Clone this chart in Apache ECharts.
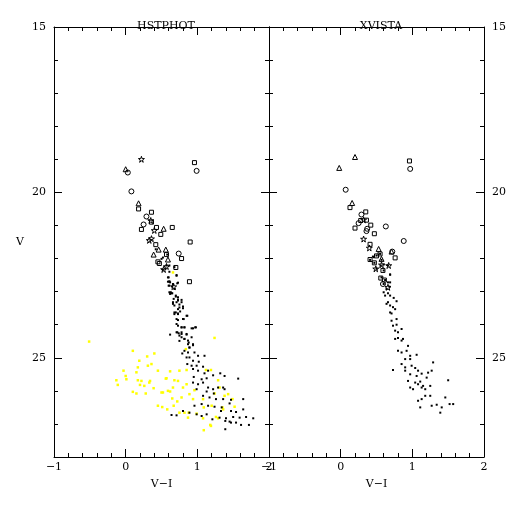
<!DOCTYPE html>
<html><head><meta charset="utf-8">
<script src="https://cdn.jsdelivr.net/npm/echarts@6/dist/echarts.min.js"></script>
<style>html,body{margin:0;padding:0;background:#fff}#c{width:512px;height:512px}</style>
</head><body><div id="c"></div>
<script>
// ---- Data (V-I, V) ----
const panelTitles = ['HSTPHOT', 'XVISTA'];
const xTicks = [-1, 0, 1, 2];
const yTicks = [15, 20, 25];

const hstSquares = [[0.96,19.1],[0.18,20.5],[0.36,20.6],[0.36,20.9],[0.22,21.12],[0.43,21.06],[0.65,21.06],[0.49,21.27],[0.9,21.5],[0.42,21.58],[0.57,21.88],[0.78,22.0],[0.45,22.1],[0.47,22.15],[0.70,22.27],[0.89,22.7]];
const hstCircles = [[0.03,19.4],[0.99,19.35],[0.08,19.97],[0.29,20.73],[0.25,20.97],[0.74,21.85]];
const hstTriangles = [[0.0,19.3],[0.18,20.33],[0.53,21.1],[0.56,21.73],[0.46,21.73],[0.39,21.88],[0.59,22.03]];
const hstStars = [[0.22,19.0],[0.35,20.85],[0.40,21.15],[0.36,21.4],[0.33,21.45],[0.57,22.24],[0.53,22.33],[0.67,22.85]];
const hstDots = [[0.42,21.72],[0.52,21.97],[0.61,22.4],[0.71,22.5],[0.6,22.57],[0.61,22.7],[0.73,22.73],[0.6,22.82],
[0.58,21.88],[0.50,22.01],[0.57,22.21],[0.61,22.21],[0.68,22.26],[0.52,22.34],[0.71,22.52],[0.59,22.57],[0.61,22.69],[0.66,22.77],[0.65,22.85],[0.68,22.92],[0.61,23.02],[0.64,23.05],[0.70,23.12],[0.73,23.17],[0.66,23.32],[0.73,23.27],[0.78,23.32],[0.75,23.48],[0.80,23.50],[0.68,23.63],[0.73,23.68],[0.85,23.73],[0.71,23.83],[0.80,23.83],[0.73,24.03],[0.78,24.08],[0.82,24.08],[0.71,24.23],[0.78,24.23],[0.85,24.30],[0.94,24.11],[0.98,24.08],[0.82,24.43],[0.87,24.48],[0.92,24.38],[0.94,24.59],[0.89,24.69],[0.75,24.33],
[0.59,22.70],[0.62,22.72],[0.72,22.75],[0.61,22.82],[0.66,22.79],[0.63,23.02],[0.62,23.07],[0.65,23.05],[0.70,23.15],[0.67,23.22],[0.73,23.24],[0.78,23.25],[0.71,23.32],[0.66,23.37],[0.68,23.42],[0.75,23.39],[0.80,23.45],[0.73,23.53],[0.70,23.63],[0.73,23.66],[0.76,23.60],[0.86,23.73],[0.68,23.68],[0.81,23.83],[0.73,23.86],[0.71,23.98],[0.78,24.08],[0.82,24.08],[0.92,24.11],[0.97,24.08],[0.72,24.23],[0.74,24.26],[0.78,24.28],[0.85,24.28],[0.62,24.30],[0.78,24.38],[0.82,24.43],[0.75,24.49],[0.88,24.54],[0.87,24.59],[0.94,24.62],[0.89,24.69],[0.82,24.79],[0.79,24.87],[0.87,24.84],[0.96,24.84],[0.85,24.99],[0.89,24.99],[1.01,24.94],[1.10,24.94],[0.94,25.09],[1.02,25.12],[0.86,25.19],[0.92,25.24],[0.99,25.24],[1.08,25.27],[1.15,25.39],[0.94,25.34],[1.01,25.39],[1.10,25.47],[0.95,25.58],[1.06,25.65],[1.13,25.62],[1.22,25.53],[1.32,25.47],[1.38,25.55],[1.57,25.63],[0.94,25.75],[1.01,25.80],[1.08,25.75],[1.15,25.90],[1.22,25.95],[1.29,25.90],[1.36,25.90],[0.99,25.95],[1.13,26.02],[1.23,26.08],[1.38,25.95],[1.08,26.15],[1.17,26.20],[1.26,26.25],[1.36,26.25],[1.47,26.27],[1.64,26.25],[0.96,26.45],[1.06,26.40],[1.15,26.45],[1.24,26.48],[1.34,26.50],[1.45,26.38],[1.33,26.61],[1.47,26.61],[1.54,26.64],[1.64,26.56],[0.80,26.61],[0.89,26.66],[0.99,26.71],[1.06,26.76],[1.13,26.71],[1.21,26.86],[1.31,26.81],[1.40,26.83],[1.50,26.79],[1.59,26.81],[1.68,26.79],[1.78,26.83],[1.39,26.91],[1.47,26.96],[1.54,26.96],[1.61,27.03],[1.72,27.03],[0.64,26.73],[0.71,26.74],[1.39,27.16],[1.45,26.93]];
const hstYellow = [[0.66,22.42],[-0.51,24.51],[0.10,24.79],[0.30,24.96],[0.40,24.87],[0.19,25.09],[0.36,25.19],[0.31,25.24],[-0.03,25.39],[0.15,25.44],[0.45,25.39],[0.62,25.41],[0.75,25.39],[0.85,25.37],[1.12,25.37],[1.19,25.37],[1.24,24.40],[0.84,24.74],[0.00,25.55],[0.01,25.65],[-0.13,25.68],[-0.11,25.82],[0.17,25.68],[0.33,25.75],[0.26,25.85],[0.20,25.82],[0.57,25.62],[0.68,25.68],[0.73,25.70],[0.85,25.80],[0.66,25.90],[0.39,25.92],[0.52,26.05],[0.59,26.00],[0.10,26.03],[0.15,26.08],[0.28,26.08],[0.45,26.45],[0.58,26.56],[0.67,26.45],[0.78,26.20],[0.94,26.25],[1.08,26.25],[1.29,25.68],[1.31,25.90],[1.43,26.10],[1.49,26.25],[1.35,26.50],[1.52,26.48],[0.88,26.66],[0.99,26.69],[1.09,26.50],[1.26,26.79],[0.87,26.81],[1.08,26.83],[1.19,27.06],[1.09,27.19],[1.36,26.56],[0.80,25.90],[0.96,25.98],[0.89,26.10],[0.17,25.29],[0.22,25.70],[0.34,25.70],[0.56,25.63],[0.50,26.05],[0.62,26.02],[0.65,26.23],[0.72,26.32],[0.51,26.49],[1.24,26.08],[1.38,26.15],[1.20,26.45],[0.75,26.66],[0.82,26.66],[1.29,26.83],[1.18,27.03]];

const xvSquares = [[0.96,19.05],[0.13,20.46],[0.35,20.59],[0.28,20.85],[0.36,20.84],[0.42,20.99],[0.20,21.08],[0.47,21.25],[0.41,21.57],[0.55,21.86],[0.50,21.92],[0.41,22.03],[0.76,21.98],[0.47,22.13],[0.59,22.36],[0.56,22.59],[0.61,22.65]];
const xvCircles = [[0.97,19.29],[0.07,19.92],[0.29,20.67],[0.25,20.93],[0.63,21.03],[0.37,21.10],[0.36,21.17],[0.88,21.47],[0.72,21.79],[0.59,22.77]];
const xvTriangles = [[0.20,18.93],[-0.02,19.26],[0.16,20.32],[0.53,21.71],[0.57,22.01],[0.71,21.79]];
const xvStars = [[0.32,20.83],[0.32,21.41],[0.40,21.68],[0.57,22.19],[0.67,22.21],[0.49,22.31],[0.66,22.87]];
const xvDots = [[0.46,21.96],[0.69,22.48],[0.69,22.72],
[0.45,21.94],[0.50,21.91],[0.55,21.86],[0.41,22.04],[0.47,22.13],[0.57,22.04],[0.56,22.21],[0.60,22.18],[0.66,22.21],[0.50,22.31],[0.60,22.36],[0.69,22.49],[0.57,22.57],[0.62,22.65],[0.60,22.77],[0.66,22.72],[0.68,22.85],[0.64,22.92],[0.60,23.02],[0.66,23.05],[0.62,23.12],[0.69,23.12],[0.74,23.19],[0.78,23.29],[0.66,23.32],[0.69,23.42],[0.64,23.37],[0.73,23.47],[0.76,23.53],[0.69,23.63],[0.71,23.66],[0.78,23.83],[0.71,23.88],[0.78,24.00],[0.73,24.03],[0.76,24.18],[0.80,24.23],[0.85,24.13],[0.76,24.43],[0.80,24.40],[0.85,24.48],[0.87,24.43],[0.94,24.64],[0.80,24.79],[0.85,24.84],[0.92,24.79],[0.97,24.94],[0.90,25.04],[0.97,25.04],[1.06,24.91],[0.85,25.19],[0.90,25.29],[0.99,25.24],[1.04,25.31],[1.08,25.39],[1.29,25.14],[0.73,25.37],[0.90,25.39],[0.97,25.50],[1.06,25.55],[1.13,25.48],[1.22,25.45],[1.27,25.39],[0.94,25.70],[1.04,25.75],[1.11,25.72],[1.15,25.85],[1.20,25.60],[0.97,25.90],[1.01,25.95],[1.08,25.80],[1.13,25.90],[1.18,25.95],[1.25,25.85],[1.50,25.68],[1.18,26.15],[1.13,26.25],[1.25,26.15],[1.08,26.30],[1.46,26.20],[1.34,26.42],[1.41,26.50],[1.27,26.45],[1.11,26.50],[1.52,26.40],[1.57,26.40],[1.39,26.66]];

// ---- Chart ----
const FONT = 'DejaVu Serif';
const starPath = 'path://M50,0 L61,35 L98,35 L68,57 L79,92 L50,70 L21,92 L32,57 L2,35 L39,35 Z';
const fmtX = v => (v < 0 ? '\u2212' + Math.abs(v) : String(v));
const grids = [
  {left: 54, top: 27, width: 215, height: 430},
  {left: 269, top: 27, width: 215, height: 430}
];
function xAx(gi, pos, labels) {
  return {
    type: 'value', gridIndex: gi, position: pos, min: -1, max: 2, interval: 1,
    name: labels ? 'V\u2212I' : '', nameLocation: 'middle', nameGap: 22,
    nameTextStyle: {fontFamily: FONT, fontSize: 11, color: '#000'},
    axisLine: {show: true, onZero: false, lineStyle: {color: '#000', width: 1}},
    axisTick: {show: true, inside: true, length: 8, lineStyle: {color: '#000'}},
    minorTick: {show: true, splitNumber: 5, length: 4, lineStyle: {color: '#000'}},
    splitLine: {show: false}, minorSplitLine: {show: false},
    axisLabel: {show: labels, margin: 5, fontFamily: FONT, fontSize: 11, color: '#000',
      formatter: v => (xTicks.indexOf(v) >= 0 ? fmtX(v) : '')}
  };
}
function yAx(gi, pos, major, labels, name) {
  return {
    type: 'value', gridIndex: gi, position: pos, inverse: true, min: 15, max: 28,
    interval: major ? 5 : 1,
    name: name || '', nameLocation: 'middle', nameGap: 30, nameRotate: 0,
    nameTextStyle: {fontFamily: FONT, fontSize: 11, color: '#000'},
    axisLine: {show: !major, onZero: false, lineStyle: {color: '#000', width: 1}},
    axisTick: {show: true, inside: true, length: major ? 8 : 4, lineStyle: {color: '#000'}},
    splitLine: {show: false},
    axisLabel: {show: labels, margin: 8, fontFamily: FONT, fontSize: 11, color: '#000',
      formatter: v => (yTicks.indexOf(v) >= 0 ? String(v) : '')}
  };
}
const xAxis = [xAx(0,'bottom',true), xAx(0,'top',false), xAx(1,'bottom',true), xAx(1,'top',false)];
const yAxis = [
  yAx(0,'left',false,true,'V'), yAx(0,'right',false,false), yAx(0,'left',true,false), yAx(0,'right',true,false),
  yAx(1,'left',false,false), yAx(1,'right',false,true), yAx(1,'left',true,false), yAx(1,'right',true,false)
];
function openSeries(data, xi, yi, symbol, size) {
  return {type: 'scatter', xAxisIndex: xi, yAxisIndex: yi, data: data, symbol: symbol, symbolSize: size,
    silent: true, animation: false,
    itemStyle: {color: 'rgba(255,255,255,0)', borderColor: '#000', borderWidth: 1, opacity: 1}};
}
function dotSeries(data, xi, yi, color, size) {
  return {type: 'scatter', xAxisIndex: xi, yAxisIndex: yi, data: data, symbol: 'rect', symbolSize: size,
    silent: true, animation: false, itemStyle: {color: color, opacity: 1}};
}
const series = [
  dotSeries(hstYellow, 0, 0, '#ffff00', 2.5),
  dotSeries(hstDots, 0, 0, '#000', 2),
  openSeries(hstSquares, 0, 0, 'rect', 4),
  openSeries(hstCircles, 0, 0, 'circle', 5),
  openSeries(hstTriangles, 0, 0, 'triangle', 5),
  openSeries(hstStars, 0, 0, starPath, 6),
  dotSeries(xvDots, 2, 4, '#000', 2),
  openSeries(xvSquares, 2, 4, 'rect', 4),
  openSeries(xvCircles, 2, 4, 'circle', 5),
  openSeries(xvTriangles, 2, 4, 'triangle', 5),
  openSeries(xvStars, 2, 4, starPath, 6)
];
const chart = echarts.init(document.getElementById('c'), null, {renderer: 'canvas'});
chart.setOption({
  backgroundColor: '#fff',
  animation: false,
  title: [
    {text: panelTitles[0], left: 161, top: 16, textAlign: 'center', textStyle: {fontFamily: FONT, fontSize: 11, fontWeight: 'normal', color: '#000'}},
    {text: panelTitles[1], left: 376, top: 16, textAlign: 'center', textStyle: {fontFamily: FONT, fontSize: 11, fontWeight: 'normal', color: '#000'}}
  ],
  grid: grids, xAxis: xAxis, yAxis: yAxis, series: series
});
</script></body></html>
